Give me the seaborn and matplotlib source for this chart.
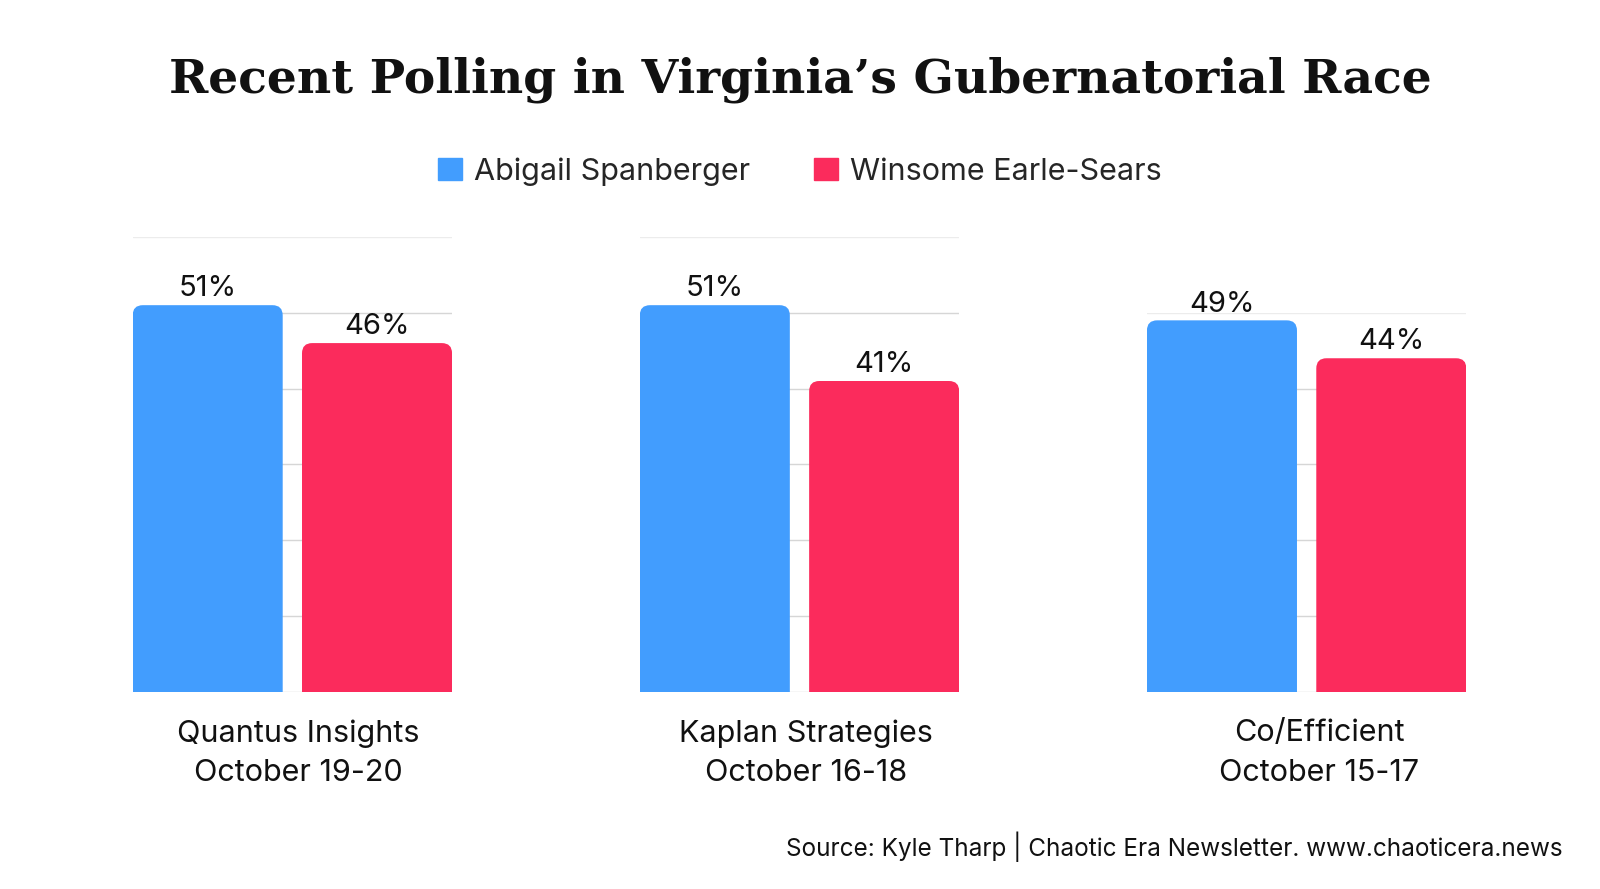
import pandas as pd
import matplotlib.pyplot as plt
import seaborn as sns
from matplotlib.patches import FancyBboxPatch, Patch

# poll data
pollsters = ['Quantus Insights', 'Kaplan Strategies', 'Co/Efficient']
dates = ['October 19-20', 'October 16-18', 'October 15-17']
spanberger = [51, 51, 49]
earle_sears = [46, 41, 44]
y_tops = [60, 60, 50]

candidates = ['Abigail Spanberger', 'Winsome Earle-Sears']
colors = ['#429DFE', '#FB2B5C']

rows = []
for i, p in enumerate(pollsters):
    rows.append({'poll': p, 'candidate': candidates[0], 'pct': spanberger[i]})
    rows.append({'poll': p, 'candidate': candidates[1], 'pct': earle_sears[i]})
df = pd.DataFrame(rows)

sns.set_theme(style='white')
plt.rcParams['font.family'] = ['Inter', 'DejaVu Sans']

fig = plt.figure(figsize=(16, 8.89), dpi=100)
# layout measured on a 1568 px wide view of the reference
W, H = 1568, 871.2
px_per_unit = 7.43
lefts = [130, 627, 1124]
label_x = [0.52, 0.52, 0.54]
for i, p in enumerate(pollsters):
    height = y_tops[i] * px_per_unit
    ax = fig.add_axes([lefts[i] / W, (H - 678) / H, 313 / W, height / H])
    sub = df[df['poll'] == p]
    sns.barplot(data=sub, x='candidate', y='pct', hue='candidate', order=candidates,
                hue_order=candidates, palette=colors, width=0.886, ax=ax,
                legend=False, zorder=3, saturation=1)
    for c in ax.containers:
        ax.bar_label(c, fmt='%d%%', padding=2, fontsize=21, color='#111111')
    # rounded top corners
    for bar in list(ax.patches):
        x, w, h = bar.get_x(), bar.get_width(), bar.get_height()
        fc = bar.get_facecolor()
        bar.remove()
        rb = FancyBboxPatch((x, -3), w, h + 3,
                            boxstyle='round,pad=0,rounding_size=0.06',
                            mutation_aspect=166 / px_per_unit,
                            facecolor=fc, edgecolor='none', zorder=3)
        ax.add_patch(rb)
    ax.set_xlim(-0.443, 1.443)
    ax.set_ylim(0, y_tops[i])
    ax.set_yticks(range(0, y_tops[i] + 1, 10))
    ax.yaxis.grid(True, color='#d6d6d6', linewidth=1)
    ax.get_ygridlines()[-1].set_color('#ececec')
    ax.set_yticklabels([])
    ax.tick_params(left=False, bottom=False)
    ax.set_xticks([])
    ax.set_ylabel('')
    ax.set_xlabel(p + '\n' + dates[i], fontsize=22, linespacing=1.52,
                  color='#111111')
    ax.xaxis.set_label_coords(label_x[i], -27 / height, transform=ax.transAxes)
    for s in ax.spines.values():
        s.set_visible(False)

fig.text(0.5, 1 - 78 / H, 'Recent Polling in Virginia\u2019s Gubernatorial Race',
         ha='center', va='center', fontsize=34, fontweight='bold',
         family='DejaVu Serif', color='#111111')

handles = [Patch(color=colors[0], label=candidates[0]),
           Patch(color=colors[1], label=candidates[1])]
fig.legend(handles=handles, loc='center', bbox_to_anchor=(0.5, 1 - 168 / H), ncol=2,
           frameon=False, fontsize=22, handlelength=0.77, handleheight=0.77,
           handletextpad=0.4, columnspacing=2.1)

fig.text(1531 / W, 1 - 830 / H,
         'Source: Kyle Tharp | Chaotic Era Newsletter. www.chaoticera.news',
         ha='right', va='center', fontsize=17.5, color='#111111')

fig.savefig('out.png', dpi=100, facecolor='white')
